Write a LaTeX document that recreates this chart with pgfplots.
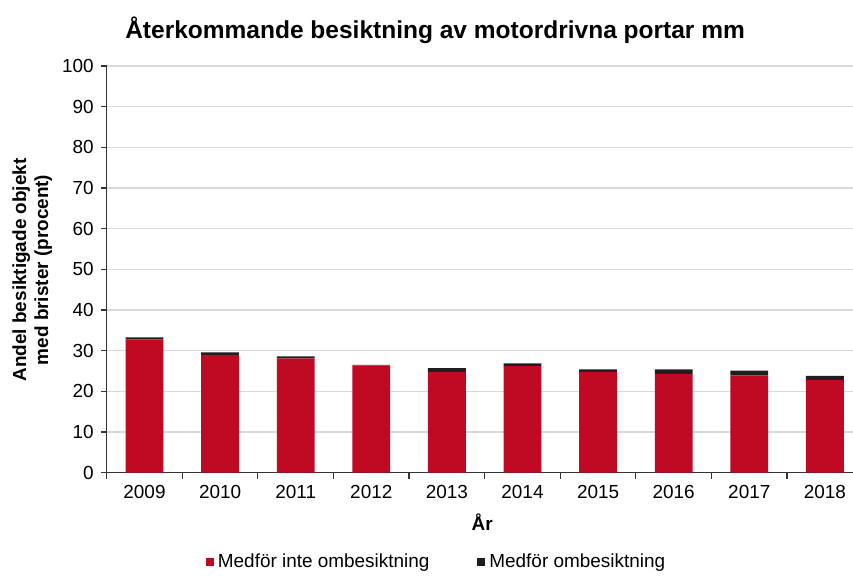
\documentclass[border=0pt]{standalone}
\usepackage{fontspec}
\setmainfont{Liberation Sans}
\usepackage{pgfplots}
\pgfplotsset{compat=1.18}
\definecolor{redbar}{HTML}{C00A23}
\definecolor{blackbar}{HTML}{1E1E1E}
\definecolor{gridgray}{HTML}{D9D9D9}
\definecolor{axisgray}{HTML}{333333}
\begin{document}
\begin{tikzpicture}
% the reference is cropped on the right, so fix the page size
\useasboundingbox (-53.35bp,-54.15bp) rectangle (373.15bp,236.35bp);
\begin{axis}[
    at={(0,0)}, anchor=south west,
    scale only axis,
    width=378bp, height=203.35bp,
    ybar stacked, bar width=0.5,
    xmin=-0.5, xmax=9.5, ymin=0, ymax=100,
    axis x line*=bottom, axis y line*=left,
    axis line style={draw=axisgray, line width=0.75bp},
    xtick={-0.5,0.5,...,9.5},
    x tick label as interval,
    xticklabels={2009,2010,2011,2012,2013,2014,2015,2016,2017,2018},
    ytick={0,10,...,100},
    tick align=outside, major tick length=3bp,
    tick style={draw=axisgray, line width=0.6bp},
    ymajorgrids, grid style={draw=gridgray, line width=0.6bp},
    tick label style={font=\fontsize{9.5}{11}\selectfont},
    /pgf/number format/assume math mode=true,
    title={Återkommande besiktning av motordrivna portar mm},
    title style={font=\bfseries\fontsize{12.3}{14}\selectfont, at={(0.4344,1.0888)}, anchor=center, yshift=-6pt},
    xlabel={År},
    xlabel style={font=\bfseries\fontsize{9.5}{11}\selectfont, at={(0.4966,-0.1215)}, anchor=center},
    ylabel={Andel besiktigade objekt\\med brister (procent)},
    ylabel style={font=\bfseries\fontsize{9.5}{11}\selectfont, align=center, at={(-0.0985,0.4986)}, anchor=center},
    legend columns=2,
    legend style={draw=none, fill=none, at={(0.4376,-0.2196)}, anchor=center,
        font=\fontsize{9.5}{11}\selectfont,
        /tikz/every even column/.append style={column sep=22bp}},
    legend image code/.code={\fill[#1] (0bp,-2bp) rectangle (4bp,2bp);},
]
\addplot[fill=redbar, draw=none] coordinates {
    (0,32.8) (1,29.0) (2,28.1) (3,26.4) (4,24.8)
    (5,26.2) (6,24.8) (7,24.3) (8,23.9) (9,22.8)
};
\addplot[fill=blackbar, draw=none] coordinates {
    (0,0.5) (1,0.6) (2,0.5) (3,0.1) (4,0.9)
    (5,0.7) (6,0.6) (7,1.1) (8,1.2) (9,1.0)
};
\legend{Medför inte ombesiktning, Medför ombesiktning}
\end{axis}
\end{tikzpicture}
\end{document}
